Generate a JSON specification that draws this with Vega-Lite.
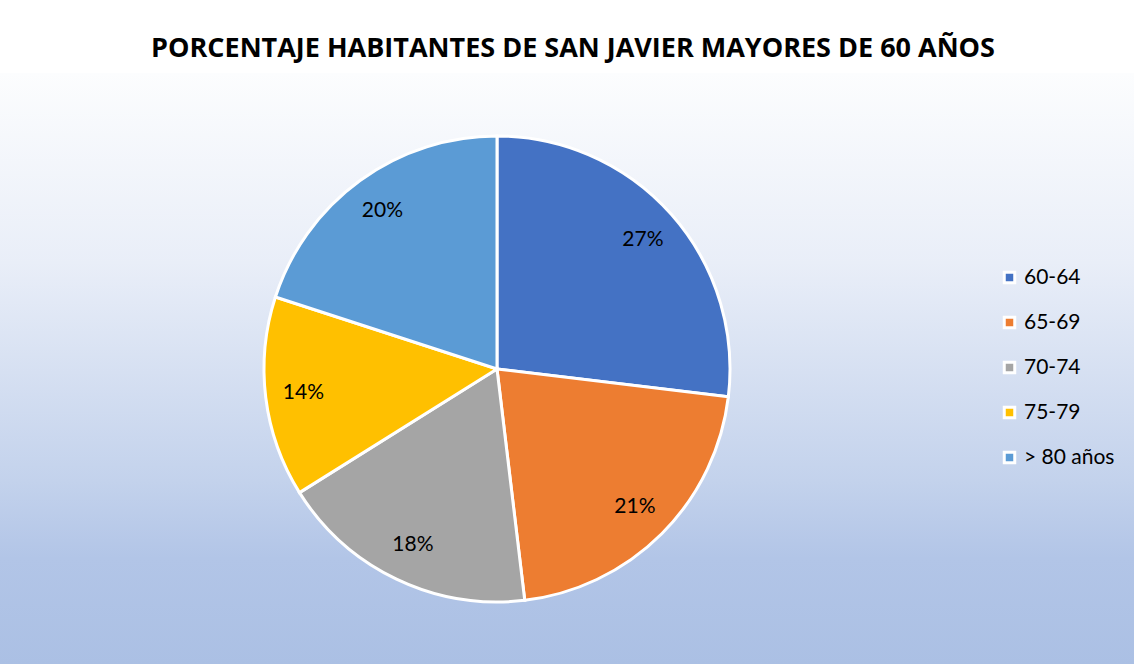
{
  "$schema": "https://vega.github.io/schema/vega-lite/v6.json",
  "background": "white",
  "padding": {"top": 35, "left": 0, "right": 0, "bottom": 0},
  "title": {
    "text": "PORCENTAJE HABITANTES DE SAN JAVIER MAYORES DE 60 AÑOS",
    "font": "Open Sans",
    "fontSize": 27,
    "fontWeight": "bold",
    "color": "#000000",
    "anchor": "middle",
    "baseline": "alphabetic",
    "offset": -11,
    "dx": 6
  },
  "datasets": {
    "edades": [
      {"grupo": "60-64", "porcentaje": 0.269, "orden": 1},
      {"grupo": "65-69", "porcentaje": 0.212, "orden": 2},
      {"grupo": "70-74", "porcentaje": 0.180, "orden": 3},
      {"grupo": "75-79", "porcentaje": 0.139, "orden": 4},
      {"grupo": "> 80 años", "porcentaje": 0.200, "orden": 5}
    ],
    "fondo": [{"capa": "fondo"}]
  },
  "spacing": 0,
  "hconcat": [
    {
      "width": 994,
      "height": 592,
      "layer": [
        {
          "data": {"name": "fondo"},
          "mark": {
            "type": "rect",
            "color": {
              "gradient": "linear",
              "x1": 0, "y1": 0, "x2": 0, "y2": 1,
              "stops": [
                {"offset": 0, "color": "#fcfdfe"},
                {"offset": 0.32, "color": "#e9eef8"},
                {"offset": 0.69, "color": "#c3d2ec"},
                {"offset": 0.82, "color": "#b2c5e7"},
                {"offset": 1, "color": "#abc0e4"}
              ]
            }
          },
          "encoding": {}
        },
        {
          "data": {"name": "edades"},
          "mark": {"type": "arc", "outerRadius": 233, "stroke": "white", "strokeWidth": 3},
          "encoding": {
            "theta": {"field": "porcentaje", "type": "quantitative", "stack": true},
            "order": {"field": "orden", "type": "ordinal"},
            "color": {
              "field": "grupo",
              "type": "nominal",
              "title": null,
              "scale": {
                "domain": ["60-64", "65-69", "70-74", "75-79", "> 80 años"],
                "range": ["#4472c4", "#ed7d31", "#a5a5a5", "#ffc000", "#5b9bd5"]
              }
            }
          }
        },
        {
          "data": {"name": "edades"},
          "mark": {"type": "text", "radius": 195, "font": "Lato", "fontSize": 21, "color": "#000000"},
          "encoding": {
            "theta": {"field": "porcentaje", "type": "quantitative", "stack": true},
            "order": {"field": "orden", "type": "ordinal"},
            "text": {"field": "porcentaje", "type": "quantitative", "format": ".0%"}
          }
        }
      ]
    },
    {
      "width": 140,
      "height": 592,
      "data": {"name": "fondo"},
      "mark": {
        "type": "rect",
        "color": {
          "gradient": "linear",
          "x1": 0, "y1": 0, "x2": 0, "y2": 1,
          "stops": [
            {"offset": 0, "color": "#fcfdfe"},
            {"offset": 0.32, "color": "#e9eef8"},
            {"offset": 0.69, "color": "#c3d2ec"},
            {"offset": 0.82, "color": "#b2c5e7"},
            {"offset": 1, "color": "#abc0e4"}
          ]
        }
      },
      "encoding": {}
    }
  ],
  "config": {
    "view": {"stroke": null},
    "concat": {"spacing": 0},
    "legend": {
      "orient": "none",
      "legendX": 999,
      "legendY": 194,
      "symbolType": "square",
      "symbolSize": 110,
      "symbolStrokeColor": "white",
      "symbolStrokeWidth": 3,
      "symbolOpacity": 1,
      "labelFont": "Lato",
      "labelFontSize": 21,
      "labelColor": "#000000",
      "labelPadding": 0,
      "rowPadding": 22
    }
  }
}
